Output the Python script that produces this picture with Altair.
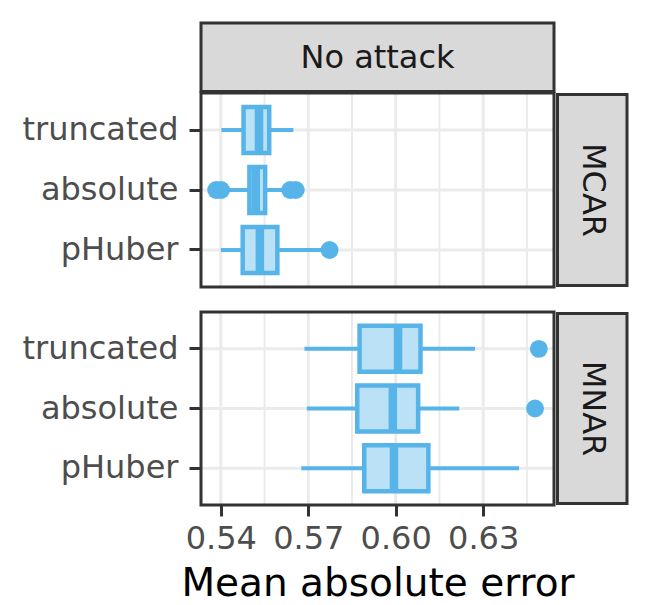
import altair as alt
import pandas as pd

# ---- data ----
methods = ["truncated", "absolute", "pHuber"]
missing = ["MCAR", "MNAR"]
attack = "No attack"

# per missing mechanism, per method (truncated, absolute, pHuber)
whisker_lo = {"MCAR": [0.5402, 0.5410, 0.5400], "MNAR": [0.5687, 0.5695, 0.5676]}
q1 =        {"MCAR": [0.5478, 0.5498, 0.5475], "MNAR": [0.5876, 0.5868, 0.5892]}
median =    {"MCAR": [0.5531, 0.5520, 0.5534], "MNAR": [0.6008, 0.5990, 0.5994]}
q3 =        {"MCAR": [0.5566, 0.5552, 0.5594], "MNAR": [0.6085, 0.6077, 0.6112]}
whisker_hi = {"MCAR": [0.5649, 0.5625, 0.5745], "MNAR": [0.6272, 0.6218, 0.6423]}

outlier_missing = ["MCAR", "MCAR", "MCAR", "MCAR", "MCAR", "MNAR", "MNAR"]
outlier_method = ["absolute", "absolute", "absolute", "absolute", "pHuber", "truncated", "absolute"]
outlier_value = [0.5384, 0.5401, 0.5638, 0.5657, 0.5773, 0.6491, 0.6478]

major_ticks = [0.54, 0.57, 0.60, 0.63]
minor_ticks = [0.555, 0.585, 0.615, 0.645]
x_domain = [0.5332, 0.6543]

# ---- style ----
BLUE = "#56B4E9"
FILL = "#BBE1F6"
GRID = "#EBEBEB"
DARK = "#333333"
FONT = "DejaVu Sans"
W = 353
HEIGHTS = {"MCAR": 194, "MNAR": 193}

rows = []
for m in missing:
    for i, meth in enumerate(methods):
        rows.append(dict(missing=m, method=meth, lo=whisker_lo[m][i], q1=q1[m][i],
                         med=median[m][i], q3=q3[m][i], hi=whisker_hi[m][i]))
stats = pd.DataFrame(rows)
outl = pd.DataFrame(dict(missing=outlier_missing, method=outlier_method, value=outlier_value))
major_df = pd.DataFrame(dict(v=major_ticks))
minor_df = pd.DataFrame(dict(v=minor_ticks))


def panel(m, bottom):
    H = HEIGHTS[m]
    xscale = alt.Scale(domain=x_domain, nice=False, zero=False)
    yscale = alt.Scale(domain=methods, paddingInner=0, paddingOuter=0.117)
    if bottom:
        xaxis = alt.Axis(values=major_ticks, format=".2f", title="Mean absolute error",
                         grid=False, domain=False, tickSize=11, tickWidth=3, tickColor=DARK,
                         labelFont=FONT, labelFontSize=32, labelColor="#4D4D4D", labelPadding=7,
                         titleFont=FONT, titleFontSize=39, titleFontWeight="normal",
                         titleColor="#000000", titlePadding=10)
    else:
        xaxis = None
    yaxis = alt.Axis(title=None, grid=False, domain=False, tickSize=12, tickWidth=3,
                     tickColor=DARK, labelFont=FONT, labelFontSize=32, labelColor="#4D4D4D",
                     labelPadding=11)

    s = stats[stats.missing == m]
    o = outl[outl.missing == m]

    vgrid_major = alt.Chart(major_df).mark_rule(color=GRID, strokeWidth=3).encode(
        x=alt.X("v:Q", scale=xscale, axis=xaxis), y=alt.value(0), y2=alt.value(H))
    vgrid_minor = alt.Chart(minor_df).mark_rule(color=GRID, strokeWidth=2).encode(
        x=alt.X("v:Q", scale=xscale), y=alt.value(0), y2=alt.value(H))
    hgrid = alt.Chart(s).mark_rule(color=GRID, strokeWidth=3).encode(
        y=alt.Y("method:N", scale=yscale, axis=yaxis, sort=methods),
        x=alt.value(0), x2=alt.value(W))
    whisk = alt.Chart(s).mark_rule(color=BLUE, strokeWidth=4).encode(
        y=alt.Y("method:N", sort=methods), x=alt.X("lo:Q", scale=xscale), x2="hi:Q")
    box = alt.Chart(s).mark_bar(fill=FILL, stroke=BLUE, strokeWidth=4.5, size=46).encode(
        y=alt.Y("method:N", sort=methods), x=alt.X("q1:Q", scale=xscale), x2="q3:Q")
    med = alt.Chart(s).mark_tick(color=BLUE, thickness=8.5, size=46, opacity=1).encode(
        y=alt.Y("method:N", sort=methods), x=alt.X("med:Q", scale=xscale))
    pts = alt.Chart(o).mark_circle(color=BLUE, size=320, opacity=1).encode(
        y=alt.Y("method:N", sort=methods), x=alt.X("value:Q", scale=xscale))

    sdf = pd.DataFrame(dict(label=[m]))
    border = alt.Chart(sdf).mark_rect(fill=None, stroke=DARK, strokeWidth=3).encode(
        x=alt.value(0), x2=alt.value(W), y=alt.value(0), y2=alt.value(H))
    rstrip = alt.Chart(sdf).mark_rect(fill="#D9D9D9", stroke=DARK, strokeWidth=3).encode(
        x=alt.value(W + 3.5), x2=alt.value(W + 73), y=alt.value(1.5), y2=alt.value(H - 1.5))
    rtext = alt.Chart(sdf).mark_text(font=FONT, fontSize=32, color="#1A1A1A", angle=90,
                                     align="center", baseline="middle").encode(
        text="label:N", x=alt.value(W + 38.5), y=alt.value(H / 2))
    layers = [vgrid_major, vgrid_minor, hgrid, whisk, box, med, pts, border, rstrip, rtext]
    if not bottom:
        tdf = pd.DataFrame(dict(label=[attack]))
        tstrip = alt.Chart(tdf).mark_rect(fill="#D9D9D9", stroke=DARK, strokeWidth=3).encode(
            x=alt.value(0), x2=alt.value(W), y=alt.value(-70), y2=alt.value(-1.5))
        ttext = alt.Chart(tdf).mark_text(font=FONT, fontSize=32, color="#1A1A1A",
                                         align="center", baseline="middle").encode(
            text="label:N", x=alt.value(W / 2), y=alt.value(-35.5))
        layers += [tstrip, ttext]
    return alt.layer(*layers).properties(width=W, height=H)


chart = alt.vconcat(panel("MCAR", False), panel("MNAR", True), spacing=21).properties(
    padding={"left": 13, "top": 13, "right": 5, "bottom": 0}
).configure_view(stroke=None).configure(background="white")

chart.save("out.html", embed_options={"renderer": "svg", "actions": False})
